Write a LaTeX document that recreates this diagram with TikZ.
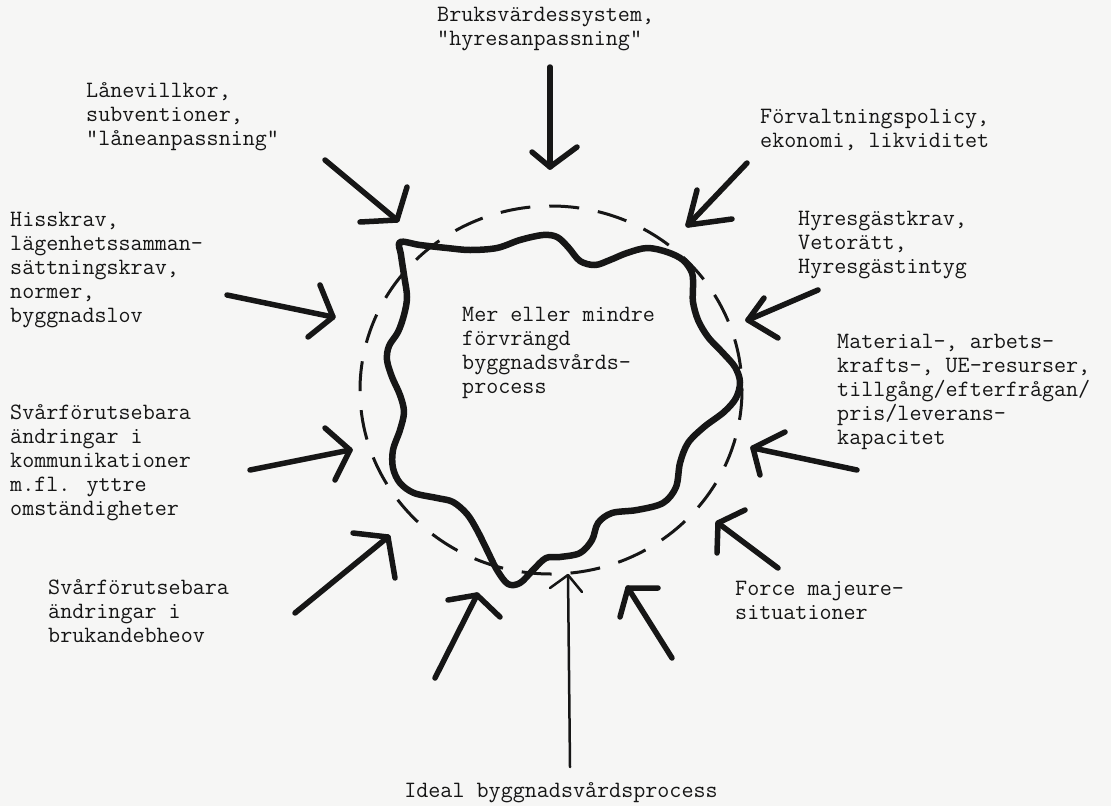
\documentclass[tikz,border=0pt]{standalone}
\usepackage{fontspec}
\definecolor{paper}{RGB}{246,246,245}
\definecolor{ink}{RGB}{22,22,22}
\begin{document}
\begin{tikzpicture}[x=1pt,y=-1pt,
  lbl/.style={anchor=north west,inner sep=0pt,align=left,text=ink,
    font=\ttfamily\fontsize{23.4}{24}\selectfont,
    execute at begin node={\rule{0pt}{17pt}}},
  thick arrow/.style={draw=ink,line width=5.5pt,line cap=round,line join=round},
  thin arrow/.style={draw=ink,line width=2.5pt,line cap=round,line join=round},
  blob/.style={draw=ink,line width=6.5pt,line join=round},
  ideal/.style={draw=ink,line width=3pt,dash pattern=on 30pt off 19pt}]
\useasboundingbox (0,0) rectangle (1111,806);
\fill[paper] (0,0) rectangle (1111,806);

% texts
\node[lbl] (bruks) at (437,7) {Bruksvärdessystem,\\"hyresanpassning"};
\node[lbl] (lane) at (86,82) {Lånevillkor,\\subventioner,\\"låneanpassning"};
\node[lbl] (forv) at (760,109) {Förvaltningspolicy,\\ekonomi, likviditet};
\node[lbl] (hiss) at (10,212) {Hisskrav,\\lägenhetssamman-\\sättningskrav,\\normer,\\byggnadslov};
\node[lbl] (hyres) at (798,211) {Hyresgästkrav,\\Vetorätt,\\Hyresgästintyg};
\node[lbl] (mer) at (462,307) {Mer eller mindre\\förvrängd\\byggnadsvårds-\\process};
\node[lbl] (mat) at (837,334) {Material-, arbets-\\krafts-, UE-resurser,\\tillgång/efterfrågan/\\pris/leverans-\\kapacitet};
\node[lbl] (komm) at (10,404) {Svårförutsebara\\ändringar i\\kommunikationer\\m.fl. yttre\\omständigheter};
\node[lbl] (bruk) at (48,579) {Svårförutsebara\\ändringar i\\brukandebheov};
\node[lbl] (force) at (735,581) {Force majeure-\\situationer};
\node[lbl,anchor=base] (idealtxt) at (561,797) {Ideal byggnadsvårdsprocess};

% ideal process (dashed circle)
\draw[ideal] (551,390) ellipse [x radius=191, y radius=184];

% distorted process (wavy blob)
\draw[blob] plot[smooth cycle,tension=0.55] coordinates {
 (400,242) (420,245) (447,248) (470,250) (497,248) (520,240) (543,235)
 (557,237) (568,247) (580,261) (595,265) (610,260) (627,253) (647,248)
 (667,252) (683,260) (692,273) (693,287) (693,302) (698,320) (708,337)
 (723,353) (735,367) (740,382) (736,398) (724,412) (704,427) (688,443)
 (680,463) (676,487) (663,503) (637,510) (612,513) (598,523) (592,540)
 (580,553) (560,557) (546,558) (533,570) (520,583) (508,584) (497,570)
 (487,550) (477,530) (467,514) (453,502) (437,498) (414,493) (400,483)
 (393,468) (393,450) (400,430) (404,412) (400,395) (392,377) (387,360)
 (389,346) (398,332) (404,315) (407,297) (404,275) (401,255)};

% arrows: tail, tip, two arms
\foreach \n/\tx/\ty/\hx/\hy/\ax/\ay/\bx/\by in {
  a/550/67/550/167/532/152/577/147,
  b/325/160/397/220/360/222/407/187,
  c/747/163/688/225/732/219/697/190,
  d/818/290/748/320/764/298/778/338,
  e/227/295/333/317/320/285/308/337,
  f/857/470/753/448/785/432/760/475,
  g/250/470/350/450/325/428/335/480,
  h/295/613/388/537/353/533/395/578,
  i/778/568/718/523/745/510/717/553,
  j/672/658/628/588/658/588/620/617,
  k/435/678/477/595/448/600/500/617}{
  \coordinate (\n tail) at (\tx,\ty);
  \coordinate (\n tip) at (\hx,\hy);
  \coordinate (\n armA) at (\ax,\ay);
  \coordinate (\n armB) at (\bx,\by);
  \draw[thick arrow] (\n tail) -- (\n tip);
  \draw[thick arrow] (\n armA) -- (\n tip) -- (\n armB);
}
\coordinate (ltail) at (570,767);
\coordinate (ltip) at (568,575);
\coordinate (larmA) at (550,588);
\coordinate (larmB) at (582,592);
\draw[thin arrow] (ltail) -- (ltip);
\draw[thin arrow] (larmA) -- (ltip) -- (larmB);
\end{tikzpicture}
\end{document}
